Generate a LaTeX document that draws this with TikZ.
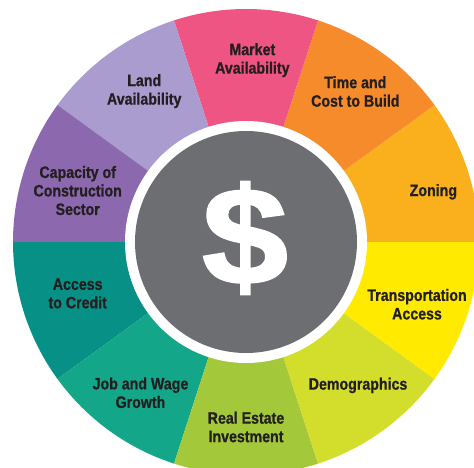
\documentclass[tikz,border=0pt]{standalone}
\usepackage{fontspec}
\setmainfont[FakeStretch=0.86, BoldFeatures={FakeBold=0.8}]{Liberation Sans}
\newfontfamily\dollarfont[BoldFeatures={FakeBold=1.5}]{Liberation Sans}
\usepackage{xcolor}

\begin{document}
\begin{tikzpicture}[x=1pt, y=1pt]

  \definecolor{my_zoning}{RGB}{249,176,28}
  \definecolor{my_time}{RGB}{245,139,43}
  \definecolor{my_market}{RGB}{238,85,131}
  \definecolor{my_land}{RGB}{170,156,206}
  \definecolor{my_capacity}{RGB}{140,104,174}
  \definecolor{my_credit}{RGB}{7,144,134}
  \definecolor{my_job}{RGB}{20,166,137}
  \definecolor{my_estate}{RGB}{163,201,59}
  \definecolor{my_demo}{RGB}{211,221,43}
  \definecolor{my_transport}{RGB}{255,234,0}
  \definecolor{my_gray}{RGB}{109,110,113}
  \definecolor{my_text}{RGB}{35,31,32}

  \tikzstyle{seglabel} = [align=center, inner sep=0pt, text=my_text, font=\bfseries\fontsize{16.5}{18.5}\selectfont]

  \useasboundingbox (0,0) rectangle (474,467);
  \clip (0,0) rectangle (474,467);
  \coordinate (center) at (246,225);

  % wheel
  \foreach \a/\col in {0/my_zoning, 36/my_time, 72/my_market, 108/my_land, 144/my_capacity,
                       180/my_credit, 216/my_job, 252/my_estate, 288/my_demo, 324/my_transport}
    \fill[\col] (center) -- ++(\a:233) arc[start angle=\a, end angle=\a+36, radius=233] -- cycle;

  \fill[white] (center) circle (121);
  \fill[my_gray] (center) circle (111);
  \node[text=white, font=\dollarfont\bfseries\fontsize{138}{138}\selectfont, xscale=1.12] (dollar) at (245,229) {\$};

  % labels
  \node[seglabel] (zoning) at ([shift={(15:194)}]center) {Zoning};
  \node[seglabel] (time) at ([shift={(54:186)}]center) {Time and\\Cost to Build};
  \node[seglabel] (market) at ([shift={(88:182)}]center) {Market\\Availability};
  \node[seglabel] (land) at ([shift={(124:182)}]center) {Land\\Availability};
  \node[seglabel] (capacity) at ([shift={(163:176)}]center) {Capacity of\\Construction\\Sector};
  \node[seglabel] (credit) at ([shift={(197:176)}]center) {Access\\to Credit};
  \node[seglabel] (job) at ([shift={(235:184)}]center) {Job and Wage\\Growth};
  \node[seglabel] (estate) at ([shift={(270:185)}]center) {Real Estate\\Investment};
  \node[seglabel] (demo) at ([shift={(308:182)}]center) {Demographics};
  \node[seglabel] (transport) at ([shift={(340:182)}]center) {Transportation\\Access};

\end{tikzpicture}
\end{document}
